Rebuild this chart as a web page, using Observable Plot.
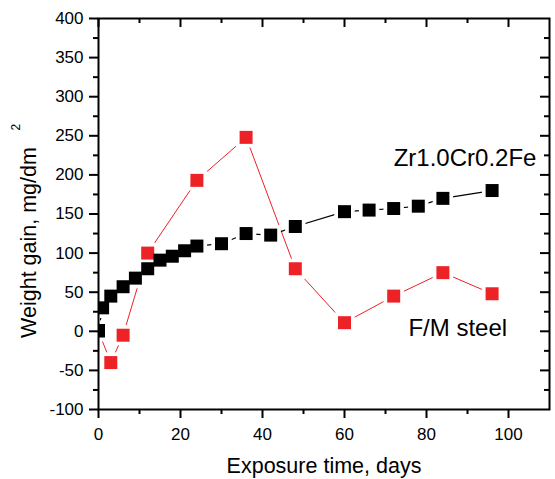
<!DOCTYPE html>
<html><head><meta charset="utf-8">
<script src="https://cdn.jsdelivr.net/npm/d3@7"></script>
<script src="https://cdn.jsdelivr.net/npm/@observablehq/plot@0.6"></script>
<style>body{margin:0;background:#fff} svg{display:block}</style>
</head><body><div id="chart"></div>
<script>
// Data
const zrDays = [0, 1, 3, 6, 9, 12, 15, 18, 21, 24, 30, 36, 42, 48, 60, 66, 72, 78, 84, 96];
const zrGain = [1, 30, 45, 57, 68, 80, 91, 96, 103, 109, 112, 125, 123, 134, 153, 155, 157, 160, 170, 180];
const fmDays = [0, 3, 6, 12, 24, 36, 48, 60, 72, 84, 96];
const fmGain = [0, -40, -5, 100, 193, 248, 80, 11, 45, 75, 48];
const seriesNames = ["Zr1.0Cr0.2Fe", "F/M steel"];
const xMajor = [0, 20, 40, 60, 80, 100];
const xMinor = [10, 30, 50, 70, 90];
const yMajor = [-100, -50, 0, 50, 100, 150, 200, 250, 300, 350, 400];
const yMinor = [-75, -25, 25, 75, 125, 175, 225, 275, 325, 375];
const xTitle = "Exposure time, days";
const yTitle = "Weight gain, mg/dm";
const yTitleSup = "2";

const zr = zrDays.map((d, i) => ({day: d, gain: zrGain[i]}));
const fm = fmDays.map((d, i) => ({day: d, gain: fmGain[i]}));

const W = 555, H = 479;
const mL = 98, mR = 6, mT = 18, mB = 70;
const innerW = W - mL - mR, innerH = H - mT - mB;
const RED = "#ec2227";
const SQ = 7.33;   // square side ~13px
const HALO = 11.5; // white gap around symbols
const fmt = d => String(d);

const chart = Plot.plot({
  width: W, height: H,
  marginLeft: mL, marginRight: mR, marginTop: mT, marginBottom: mB,
  style: {fontFamily: "'Liberation Sans', Arial, sans-serif", fontSize: "17px", color: "#000", background: "#fff"},
  x: {domain: [0, 110]},
  y: {domain: [-100, 400]},
  marks: [
    Plot.line(fm, {x: "day", y: "gain", stroke: RED, strokeWidth: 1, clip: true}),
    Plot.line(zr, {x: "day", y: "gain", stroke: "#000", strokeWidth: 1.2, clip: true}),
    Plot.dot(fm, {x: "day", y: "gain", symbol: "square", r: HALO, fill: "#fff", clip: true}),
    Plot.dot(zr, {x: "day", y: "gain", symbol: "square", r: HALO, fill: "#fff", clip: true}),
    Plot.dot(fm, {x: "day", y: "gain", symbol: "square", r: SQ, fill: RED, clip: true}),
    Plot.dot(zr, {x: "day", y: "gain", symbol: "square", r: SQ, fill: "#000", clip: true}),
    Plot.frame({stroke: "#000", strokeWidth: 2}),
    // bottom / left axes (outward ticks)
    Plot.axisX(xMajor, {anchor: "bottom", tickSize: 9, tickPadding: 9.5, fontSize: 17, strokeWidth: 2, label: null, tickFormat: fmt}),
    Plot.axisY(yMajor, {anchor: "left", tickSize: 9, tickPadding: 6, fontSize: 17, strokeWidth: 2, label: null, tickFormat: fmt}),
    Plot.ruleX(xMinor, {insetTop: innerH, insetBottom: -5, strokeWidth: 2}),
    Plot.ruleY(yMinor, {insetRight: innerW, insetLeft: -5, strokeWidth: 2}),
    // top / right mirrored ticks (inward)
    Plot.ruleX(xMajor, {insetBottom: innerH - 9, strokeWidth: 2}),
    Plot.ruleX(xMinor, {insetBottom: innerH - 5, strokeWidth: 2}),
    Plot.ruleY(yMajor.slice(1, -1), {insetLeft: innerW - 9, strokeWidth: 2}),
    Plot.ruleY(yMinor, {insetLeft: innerW - 5, strokeWidth: 2}),
    // series labels
    Plot.text([seriesNames[0]], {x: 72, y: 211, text: d => d, textAnchor: "start", lineAnchor: "bottom", fontSize: 24}),
    Plot.text([seriesNames[1]], {x: 75.6, y: -6, text: d => d, textAnchor: "start", lineAnchor: "bottom", fontSize: 24}),
    // axis titles
    Plot.text([xTitle], {frameAnchor: "bottom", text: d => d, textAnchor: "middle", lineAnchor: "bottom", dy: 63, fontSize: 21.5}),
    Plot.text([yTitle], {frameAnchor: "left", text: d => d, rotate: -90, textAnchor: "middle", lineAnchor: "bottom", dx: -63, dy: 28.5, fontSize: 21.5}),
    Plot.text([yTitleSup], {frameAnchor: "left", text: d => d, rotate: -90, textAnchor: "middle", lineAnchor: "bottom", dx: -78.5, dy: -86.8, fontSize: 12})
  ]
});
document.getElementById("chart").appendChild(chart);
</script>
</body></html>
